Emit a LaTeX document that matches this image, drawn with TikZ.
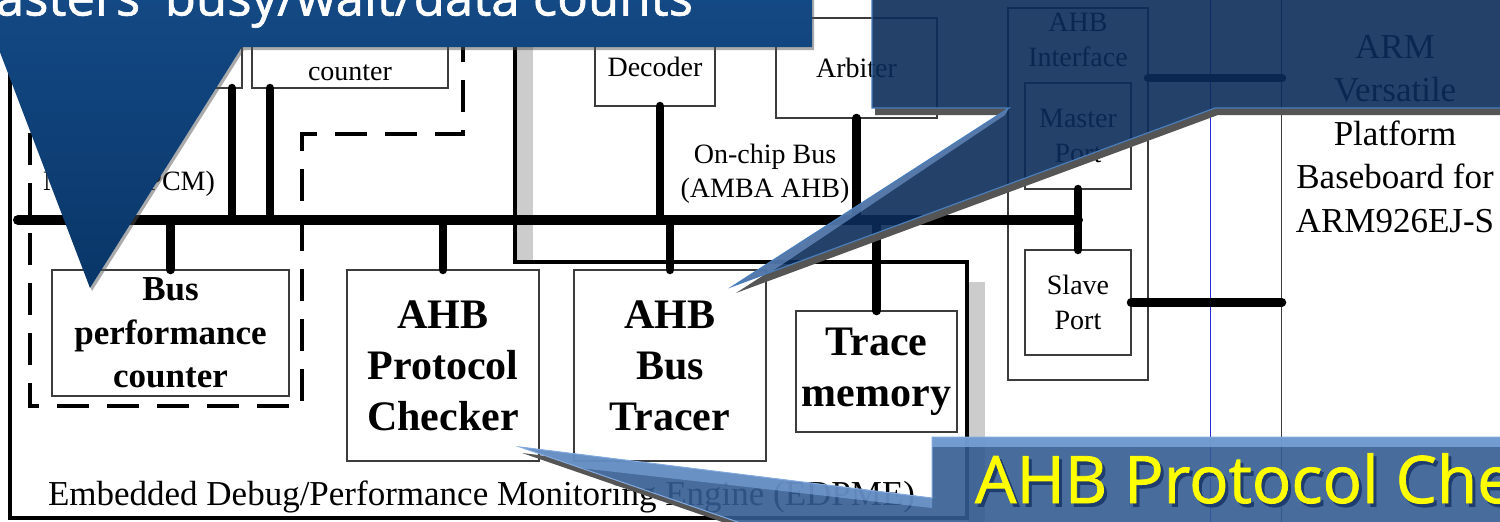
\documentclass[tikz,border=0pt]{standalone}
\usepackage{fontspec}
\setmainfont{Liberation Serif}
\newfontfamily\callfont[FakeBold=1.2]{Open Sans}
\usetikzlibrary{calc}
\definecolor{boxline}{RGB}{60,60,60}
\definecolor{shadegray}{RGB}{204,204,204}
\definecolor{tltop}{RGB}{20,74,134}
\definecolor{tlbot}{RGB}{9,54,104}
\definecolor{trfill}{RGB}{11,44,89}
\definecolor{trlight}{RGB}{120,160,215}
\definecolor{edgeblue}{RGB}{74,126,187}
\definecolor{brfill}{RGB}{52,92,145}
\definecolor{brlight}{RGB}{130,170,225}
\definecolor{brtop}{RGB}{125,168,222}
\definecolor{calloutshadow}{RGB}{85,85,85}
\definecolor{guideblue}{RGB}{40,40,220}
\definecolor{textshadow}{RGB}{30,60,110}
\definecolor{callyellow}{RGB}{255,255,0}
\begin{document}
\begin{tikzpicture}[x=1pt,y=-1pt,
  box/.style={draw=boxline, line width=1.1pt, inner sep=0pt, outer sep=0pt},
  wire/.style={line width=8.5pt, line cap=round},
  busline/.style={line width=10pt, line cap=round},
  txtsmall/.style={font=\fontsize{28}{34.5}\selectfont, align=center},
  txtmid/.style={font=\bfseries\fontsize{35}{43.5}\selectfont, align=center},
  txtbig/.style={font=\bfseries\fontsize{42}{51}\selectfont, align=center},
  txtlarge/.style={font=\fontsize{35}{43.5}\selectfont, align=center},
  lab/.style={inner sep=0pt, outer sep=0pt},
  callshadow/.style={fill=calloutshadow},
]
\useasboundingbox (0,0) rectangle (1500,522);

% ---------- EDPME outline with its shadow ----------
\fill[shadegray] (515,-20) rectangle (533,262);
\fill[shadegray] (967,282) rectangle (985,540);
\draw[line width=3.5pt, line join=miter] (515,-20) -- (515,262) -- (967,262) -- (967,518) -- (10,518) -- (10,-20);

% ---------- PCM dashed region ----------
\draw[line width=4pt, dash pattern=on 32pt off 18pt] (463,-20) -- (463,134) -- (302,134) -- (302,406) -- (30,406) -- (30,-20);

% ---------- guide lines at right ----------
\draw[guideblue, line width=0.8pt] (1210,-5) -- (1210,530);
\coordinate (armtop) at (1281,-5);
\coordinate (armbot) at (1281,530);
\draw[boxline, line width=1pt] (armtop) -- (armbot);

% ---------- boxes ----------
\node[box, minimum width=194pt, minimum height=68pt] (lbox) at (145,54) {};
\node[box, minimum width=196pt, minimum height=68pt] (cbox) at (350,54) {};
\node[lab, txtsmall, anchor=base] (cboxtext) at (350,80) {counter};
\node[box, txtmid, minimum width=237pt, minimum height=126pt] (bpc) at (170.5,333) {Bus\\performance\\counter};
\node[box, txtbig, minimum width=192pt, minimum height=191pt] (apc) at (443,365.5) {AHB\\Protocol\\Checker};
\node[box, txtbig, minimum width=192pt, minimum height=191pt] (abt) at (670,365.5) {AHB\\Bus\\Tracer};
\node[box, txtbig, minimum width=161pt, minimum height=121pt] (tm) at (876.5,371.5) {Trace\\memory};
\node[box, txtsmall, minimum width=120pt, minimum height=78pt] (dec) at (655,67) {Decoder};
\node[box, txtsmall, minimum width=161pt, minimum height=100pt] (arb) at (856.5,68) {Arbiter};
\node[box, minimum width=140pt, minimum height=372pt] (aif) at (1078,194) {};
\node[lab, txtsmall, anchor=north] (aiftext) at (1078,13.5) {AHB\\Interface};
\node[box, txtsmall, minimum width=106pt, minimum height=106pt] (mp) at (1078,136) {Master\\Port};
\node[box, txtsmall, minimum width=106pt, minimum height=105pt] (sp) at (1078,302.5) {Slave\\Port};

% ---------- labels ----------
\node[lab, txtsmall, anchor=north] (bustext) at (765,144) {On-chip Bus\\(AMBA AHB)};
\node[lab, txtsmall, anchor=base west] (pcmtext) at (43,190) {Module (PCM)};
\node[lab, txtlarge, anchor=base west] (edpmetext) at (48,505) {Embedded Debug/Performance Monitoring Engine (EDPME)};
\node[lab, txtlarge, anchor=north] (armtext) at (1395,35) {ARM\\Versatile\\Platform\\Baseboard for\\ARM926EJ-S};

% ---------- bus and connectors ----------
\coordinate (busL) at (18,220);
\coordinate (busR) at (1078,220);
\draw[busline] (busL) -- (busR);
\coordinate (lboxport) at ($(lbox.south east)+(-10,0)$);
\coordinate (cboxport) at ($(cbox.south west)+(18,0)$);
\coordinate (decport) at ($(dec.south)+(5,0)$);
\draw[wire] (lboxport) -- (lboxport |- busL);
\draw[wire] (cboxport) -- (cboxport |- busL);
\draw[wire] (bpc.north) -- (bpc.north |- busL);
\draw[wire] (apc.north) -- (apc.north |- busL);
\draw[wire] (decport) -- (decport |- busL);
\draw[wire] (abt.north) -- (abt.north |- busL);
\draw[wire] (arb.south) -- (arb.south |- busL);
\draw[wire] (tm.north) -- (tm.north |- busL);
\draw[wire] (mp.south) -- (sp.north);
\coordinate (y78) at (0,78);
\coordinate (armA) at (1282,78);
\coordinate (armB) at (1282,302.5);
\draw[wire] (aif.east |- y78) -- (armA);
\draw[wire] (sp.east) -- (armB);

% ---------- top-left callout ----------
\begin{scope}[even odd rule]
  \clip (-60,-60) rectangle (1600,600)
    (-20,-20) -- (812,-20) -- (812,47) -- (242,47) -- (90,288) -- (-2,47) -- (-20,47) -- cycle;
  \fill[calloutshadow, fill opacity=.5, shift={(2,3)}]
    (-20,-20) -- (812,-20) -- (812,47) -- (242,47) -- (90,288) -- (-2,47) -- (-20,47) -- cycle;
\end{scope}
\shade[top color=tltop, bottom color=tlbot]
  (-20,-20) -- (812,-20) -- (812,47) -- (242,47) -- (90,288) -- (-2,47) -- (-20,47) -- cycle;
\node[lab, anchor=base east, text=white, font=\callfont\fontsize{51}{60}\selectfont] (tltext) at (693,15.5) {asters' busy/wait/data counts};

% ---------- top-right callout ----------
\begin{scope}[even odd rule]
  \clip (-60,-60) rectangle (1600,600)
    (872,-20) -- (1520,-20) -- (1520,108) -- (1215,108) -- (733,286) -- (1009,108) -- (872,108) -- cycle;
  \fill[callshadow, shift={(3,7)}]
    (872,-20) -- (1520,-20) -- (1520,108) -- (1215,108) -- (733,286) -- (1009,108) -- (872,108) -- cycle;
\end{scope}
\fill[trfill, fill opacity=.9]
  (872,-20) -- (1520,-20) -- (1520,108) -- (1215,108) -- (733,286) -- (1009,108) -- (872,108) -- cycle;
\fill[trlight, fill opacity=.6] (1009,108) -- (733,286) -- (771,272) -- (1005,115) -- cycle;
\draw[edgeblue, line width=1.2pt, line join=miter]
  (872,-20) -- (872,108) -- (1009,108) -- (733,286) -- (1215,108) -- (1520,108);

% ---------- bottom-right callout ----------
\begin{scope}[even odd rule]
  \clip (-60,-60) rectangle (1600,600)
    (520,447) -- (932,498) -- (932,437) -- (1520,437) -- (1520,540) -- (790,540) -- cycle;
  \fill[callshadow, shift={(2,6)}]
    (520,447) -- (932,498) -- (932,437) -- (1520,437) -- (1520,540) -- (790,540) -- cycle;
\end{scope}
\fill[brfill, fill opacity=.9]
  (520,447) -- (932,498) -- (932,437) -- (1520,437) -- (1520,540) -- (790,540) -- cycle;
\fill[brlight, fill opacity=.6] (520,447) -- (932,498) -- (932,508) -- (580,468) -- cycle;
\fill[brtop, fill opacity=.8] (932,437) rectangle (1520,447);
\draw[brlight, line width=1pt, line join=miter]
  (790,540) -- (520,447) -- (932,498) -- (932,437) -- (1520,437);
\node[lab, anchor=base west, text=textshadow, font=\callfont\fontsize{65.5}{70}\selectfont] (brshadow) at (978,506.5) {AHB Protocol Che};
\node[lab, anchor=base west, text=callyellow, font=\callfont\fontsize{65.5}{70}\selectfont] (brtext) at (975,503) {AHB Protocol Che};
\end{tikzpicture}
\end{document}
